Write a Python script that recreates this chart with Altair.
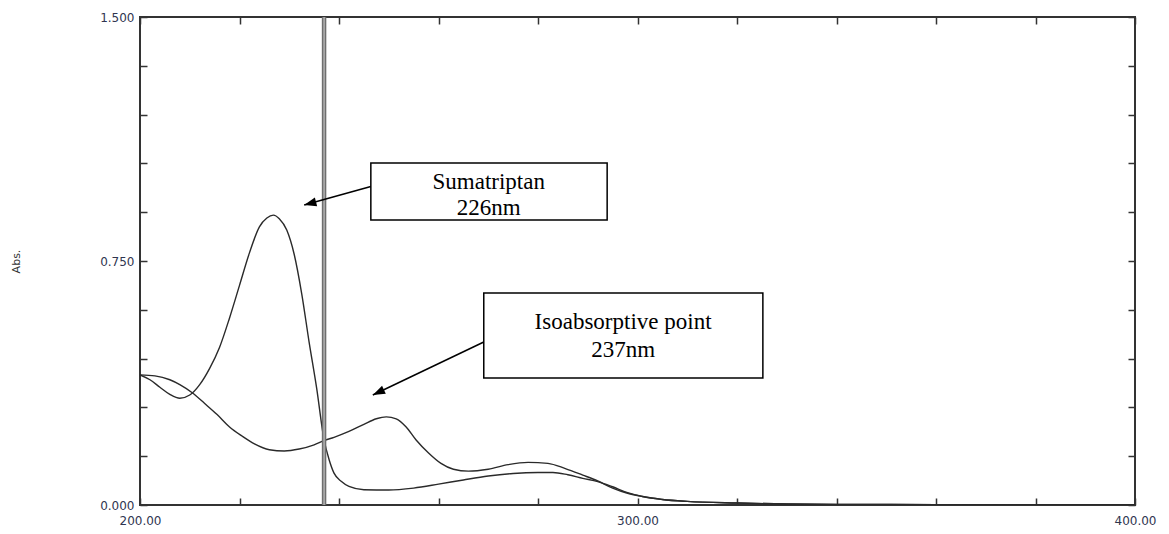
import altair as alt
import pandas as pd

# ---- spectra ----
wl_suma = [200, 202, 204, 206, 208, 210, 212, 214, 216, 218, 220, 222, 224, 225.5, 226.8,
           228, 229.5, 231, 232.5, 234, 235.5, 237, 238, 239, 240.5, 242, 245, 250, 255,
           260, 265, 270, 275, 280, 283, 286, 289, 292, 295, 298, 301, 305, 310, 320, 330,
           340, 360, 400]
abs_suma = [0.400, 0.385, 0.362, 0.340, 0.328, 0.338, 0.370, 0.420, 0.485, 0.575, 0.675,
            0.775, 0.855, 0.882, 0.891, 0.880, 0.845, 0.770, 0.650, 0.500, 0.360, 0.200,
            0.140, 0.098, 0.072, 0.057, 0.047, 0.046, 0.052, 0.064, 0.077, 0.089, 0.097,
            0.100, 0.100, 0.093, 0.082, 0.072, 0.056, 0.038, 0.026, 0.017, 0.011, 0.006,
            0.003, 0.002, 0.001, 0.000]

wl_mix = [200, 203, 206, 208, 210.5, 213, 215.5, 218, 220.5, 223, 226, 229, 232, 235, 237,
          239, 242, 245, 247.5, 249.5, 251.5, 253.5, 255.5, 258, 260.5, 263, 266, 270, 274,
          278, 282, 285.5, 289, 292, 295, 298, 301, 305, 310, 320, 330, 340, 360, 400]
abs_mix = [0.400, 0.397, 0.385, 0.370, 0.345, 0.312, 0.278, 0.240, 0.212, 0.188, 0.170,
           0.166, 0.172, 0.185, 0.198, 0.208, 0.226, 0.248, 0.265, 0.271, 0.265, 0.240,
           0.200, 0.160, 0.128, 0.110, 0.104, 0.110, 0.124, 0.131, 0.128, 0.112, 0.092,
           0.074, 0.052, 0.036, 0.026, 0.017, 0.011, 0.006, 0.003, 0.002, 0.001, 0.000]

# ---- axes ----
x_domain = [200, 400]
y_domain = [0, 1.5]
x_ticks = [200, 220, 240, 260, 280, 300, 320, 340, 360, 380, 400]
y_ticks = [0, 0.15, 0.3, 0.45, 0.6, 0.75, 0.9, 1.05, 1.2, 1.35, 1.5]
x_labelled = [200, 300, 400]
y_labelled = [0, 0.75, 1.5]

# ---- annotations ----
iso_wavelength = [237]
box_x = [246.4, 269.1]
box_x2 = [293.9, 325.2]
box_y = [1.051, 0.652]
box_y2 = [0.876, 0.390]
note_text = ["Sumatriptan", "226nm", "Isoabsorptive point", "237nm"]
note_x = [270.1, 270.1, 297.1, 297.1]
note_y = [0.972, 0.891, 0.540, 0.454]
arrow_x = [246.4, 269.1]
arrow_y = [0.979, 0.501]
arrow_x2 = [233.0, 246.8]
arrow_y2 = [0.922, 0.338]
arrow_angle = [255, 245]

df_a = pd.DataFrame({"wl": wl_suma, "abs": abs_suma})
df_b = pd.DataFrame({"wl": wl_mix, "abs": abs_mix})
df_iso = pd.DataFrame({"wl": iso_wavelength})
df_box = pd.DataFrame({"x": box_x, "x2": box_x2, "y": box_y, "y2": box_y2})
df_note = pd.DataFrame({"t": note_text, "x": note_x, "y": note_y})
df_arrow = pd.DataFrame({"x": arrow_x, "y": arrow_y, "x2": arrow_x2, "y2": arrow_y2,
                         "ang": arrow_angle})

xs = alt.Scale(domain=x_domain, nice=False, zero=False)
ys = alt.Scale(domain=y_domain, nice=False, zero=False)

lab_font = "DejaVu Sans"
lab_color = "#2f3550"

def xlab_expr():
    cond = " || ".join(f"abs(datum.value - {v}) < 1e-6" for v in x_labelled)
    return f"({cond}) ? format(datum.value, '.2f') : ''"

def ylab_expr():
    cond = " || ".join(f"abs(datum.value - {v}) < 1e-6" for v in y_labelled)
    return f"({cond}) ? format(datum.value, '.3f') : ''"

common_axis = dict(grid=False, domain=False, offset=-7, tickSize=7, tickColor="#333",
                   tickWidth=1.5)

x_bottom = alt.Axis(orient="bottom", values=x_ticks, labelExpr=xlab_expr(), title=None,
                    labelFont=lab_font, labelFontSize=12, labelColor=lab_color,
                    labelPadding=10, labelFlush=False, labelOverlap=False, **common_axis)
y_left = alt.Axis(orient="left", values=y_ticks, labelExpr=ylab_expr(), title="Abs.",
                  titleFont=lab_font, titleFontSize=11, titleFontWeight="normal",
                  titleColor="#333", titleAngle=270, titleX=-126, titleY=244,
                  labelFont=lab_font, labelFontSize=12, labelColor=lab_color,
                  labelPadding=6, labelFlush=False, labelOverlap=False, **common_axis)
x_top = alt.Axis(orient="top", values=x_ticks, labels=False, title=None, **common_axis)
y_right = alt.Axis(orient="right", values=y_ticks, labels=False, title=None, **common_axis)

line_style = dict(color="#2a2a2a", strokeWidth=1.4, interpolate="monotone", clip=True)

curve_a = alt.Chart(df_a).mark_line(**line_style).encode(
    x=alt.X("wl:Q", scale=xs, axis=x_bottom),
    y=alt.Y("abs:Q", scale=ys, axis=y_left),
)
curve_b = alt.Chart(df_b).mark_line(**line_style).encode(
    x=alt.X("wl:Q", scale=xs, axis=x_top),
    y=alt.Y("abs:Q", scale=ys, axis=y_right),
)

iso_outer = alt.Chart(df_iso).mark_rule(color="#6e6e6e", strokeWidth=4.5).encode(
    x=alt.X("wl:Q", scale=xs, axis=None)
)
iso_inner = alt.Chart(df_iso).mark_rule(color="#bdbdbd", strokeWidth=1.3).encode(
    x=alt.X("wl:Q", scale=xs, axis=None)
)

boxes = alt.Chart(df_box).mark_rect(fill="white", stroke="black", strokeWidth=1.5).encode(
    x=alt.X("x:Q", scale=xs, axis=None), x2="x2:Q",
    y=alt.Y("y:Q", scale=ys, axis=None), y2="y2:Q",
)
notes = alt.Chart(df_note).mark_text(font="Liberation Serif", fontSize=23, color="black",
                                     align="center", baseline="alphabetic").encode(
    x=alt.X("x:Q", scale=xs, axis=None),
    y=alt.Y("y:Q", scale=ys, axis=None),
    text="t:N",
)
arrow_lines = alt.Chart(df_arrow).mark_rule(color="black", strokeWidth=1.5).encode(
    x=alt.X("x:Q", scale=xs, axis=None), x2="x2:Q",
    y=alt.Y("y:Q", scale=ys, axis=None), y2="y2:Q",
)
arrow_heads = alt.Chart(df_arrow).mark_point(
    shape="M0,0 L-0.36,1 L0.36,1 Z", size=600, filled=True, color="black", opacity=1
).encode(
    x=alt.X("x2:Q", scale=xs, axis=None),
    y=alt.Y("y2:Q", scale=ys, axis=None),
    angle=alt.Angle("ang:Q", scale=None),
)

chart = alt.layer(
    curve_a, curve_b, iso_outer, iso_inner, boxes, notes, arrow_lines, arrow_heads
).resolve_axis(
    x="independent", y="independent"
).properties(
    width=995, height=488,
    autosize=alt.AutoSizeParams(type="none"),
    padding={"left": 140, "top": 17, "right": 34, "bottom": 29},
    background="white",
).configure_view(stroke="#333", strokeWidth=2)

chart.save("out.html", embed_options={"renderer": "svg", "actions": False})
